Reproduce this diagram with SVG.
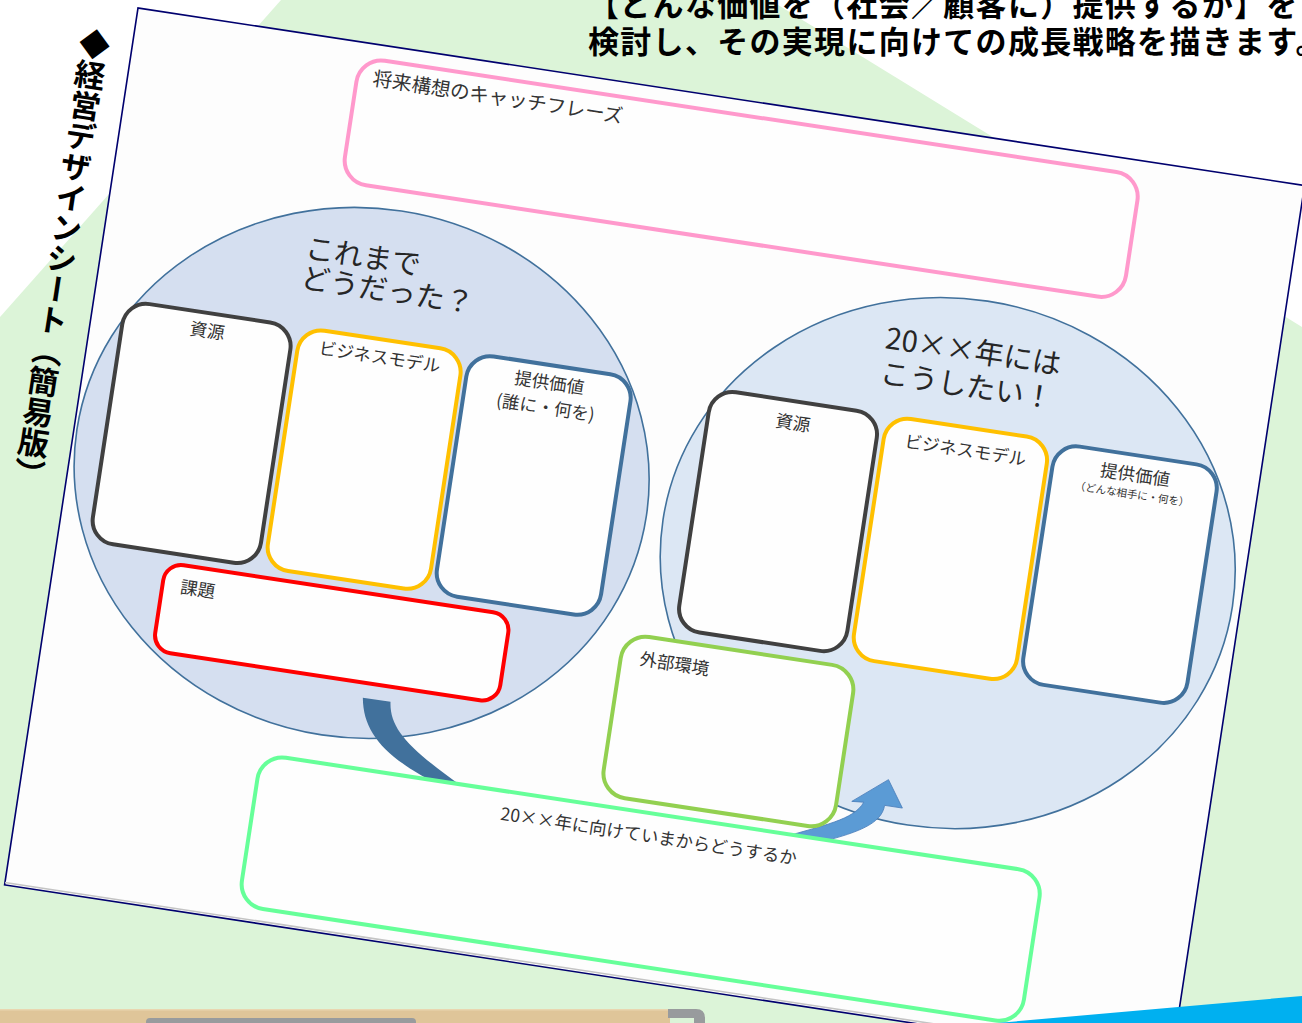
<svg xmlns="http://www.w3.org/2000/svg" width="1302" height="1023" viewBox="0 0 1302 1023">
<defs>
<style>
.jp{font-family:"Noto Sans CJK JP","Noto Sans",sans-serif;}
.lbl{font-family:"Noto Sans CJK JP","Noto Sans",sans-serif;font-size:17.5px;fill:#333333;}
.ttl{font-family:"Noto Sans CJK JP","Noto Sans",sans-serif;font-size:29px;fill:#262626;}
.hd{font-family:"Noto Sans CJK JP","Noto Sans",sans-serif;font-weight:700;fill:#000000;}
.box{fill:#fefefe;stroke-width:4;}
.ell{stroke:#41719c;stroke-width:1.6;}
</style>
</defs>
<rect x="0" y="0" width="1302" height="1023" fill="#ffffff"/>
<polygon id="bg-band" points="281,0 770,0 1302,327 1302,1023 0,1023 0,317" fill="#dcf4d8"/>
<g id="tray">
<rect x="0" y="1009" width="670" height="14" fill="#dfc599"/>
<rect x="0" y="1009" width="670" height="1.5" fill="#e9d6b0"/>
<rect x="146" y="1018" width="270" height="12" rx="4" fill="#989b9d"/>
<path d="M668,1009 L696,1009 Q705,1009 705,1018 L705,1023 L694,1023 L694,1018 L668,1018 Z" fill="#989b9d"/>
</g>
<g id="heading">
<text class="hd" x="588" y="16" style="font-size:31px;letter-spacing:1.3px">【どんな価値を（社会／顧客に）提供するか】を</text>
<text class="hd" x="588" y="53" style="font-size:31px;letter-spacing:1.3px">検討し、その実現に向けての成長戦略を描きます。</text>
</g>
<g id="side-title" transform="translate(97,29) rotate(8.7)">
<text class="hd" x="0" y="0" style="font-size:31px" writing-mode="vertical-rl">◆経営デザインシート（簡易版）</text>
</g>
<g id="sheet" transform="translate(138,8) rotate(8.65)">
<rect x="0" y="0" width="1180" height="887" fill="#fdfdfd" stroke="#00006e" stroke-width="1.6"/>
<line x1="0" y1="884.6" x2="1180" y2="884.6" stroke="#c4c4c4" stroke-width="1.6"/>
<g id="catchphrase">
<rect class="box" x="227" y="15" width="790" height="126" rx="25" stroke="#ff99cc" stroke-width="3.6"/>
<text class="lbl" x="243" y="41" style="font-size:19.5px">将来構想のキャッチフレーズ</text>
</g>
<g id="past">
<ellipse class="ell" cx="291" cy="426" rx="288" ry="265" fill="#d5dff0"/>
<text class="ttl" x="202" y="222">これまで</text>
<text class="ttl" x="202" y="252">どうだった？</text>
</g>
<g id="future">
<ellipse class="ell" cx="884" cy="427" rx="288" ry="265" fill="#dce7f4"/>
<text class="ttl" x="789" y="224">20××年には</text>
<text class="ttl" x="789" y="259">こうしたい！</text>
</g>
<g id="connectors">
<path id="arrow-past" d="M326,648 L354,648 C357,675 380,692 440,722 L460,738 L420,745 L420,725 C360,705 332,685 326,648 Z" fill="#41719c"/>
<path id="arrow-future" d="M760,724 C800,705 830,695 837,676 L825,677 L858,650 L876,676 L858,676 C858,695 835,708 790,726 Z" fill="#5b9bd5" stroke="#4a7ebb" stroke-width="0.8"/>
</g>
<g id="past-resources">
<rect class="box" x="32" y="291" width="170" height="243" rx="24" stroke="#404040"/>
<text class="lbl" x="117" y="315" text-anchor="middle">資源</text>
</g>
<g id="past-business-model">
<rect class="box" x="209" y="291" width="165" height="243" rx="24" stroke="#ffc000"/>
<text class="lbl" x="291.5" y="315" text-anchor="middle">ビジネスモデル</text>
</g>
<g id="past-value">
<rect class="box" x="380" y="291" width="166" height="243" rx="24" stroke="#41719c"/>
<text class="lbl" x="463" y="315" text-anchor="middle">提供価値</text>
<text class="lbl" x="463" y="340" text-anchor="middle">(誰に・何を)</text>
</g>
<g id="past-issues">
<rect class="box" x="111" y="544" width="349" height="89" rx="18" stroke="#ff0000"/>
<text class="lbl" x="129" y="572">課題</text>
</g>
<g id="future-resources">
<rect class="box" x="625" y="290" width="170" height="243" rx="24" stroke="#404040"/>
<text class="lbl" x="710" y="318" text-anchor="middle">資源</text>
</g>
<g id="future-business-model">
<rect class="box" x="802" y="290" width="165" height="245" rx="24" stroke="#ffc000"/>
<text class="lbl" x="884.5" y="319" text-anchor="middle">ビジネスモデル</text>
</g>
<g id="future-value">
<rect class="box" x="973" y="292" width="166" height="241" rx="24" stroke="#41719c"/>
<text class="lbl" x="1056" y="318" text-anchor="middle">提供価値</text>
<text class="lbl" x="1056" y="335" text-anchor="middle" style="font-size:10.5px">（どんな相手に・何を）</text>
</g>
<g id="external-environment">
<rect class="box" x="575" y="545" width="235" height="163" rx="25" stroke="#92d050" stroke-width="3.6"/>
<text class="lbl" x="594" y="574">外部環境</text>
</g>
<g id="transition">
<rect class="box" x="234" y="719" width="791" height="153" rx="25" stroke="#66ff99" stroke-width="3.8"/>
<text class="lbl" x="629.5" y="748" text-anchor="middle">20××年に向けていまからどうするか</text>
</g>
</g>
<polygon id="corner-accent" points="997,1023 1302,996 1302,1023" fill="#00b0f0"/>
</svg>
